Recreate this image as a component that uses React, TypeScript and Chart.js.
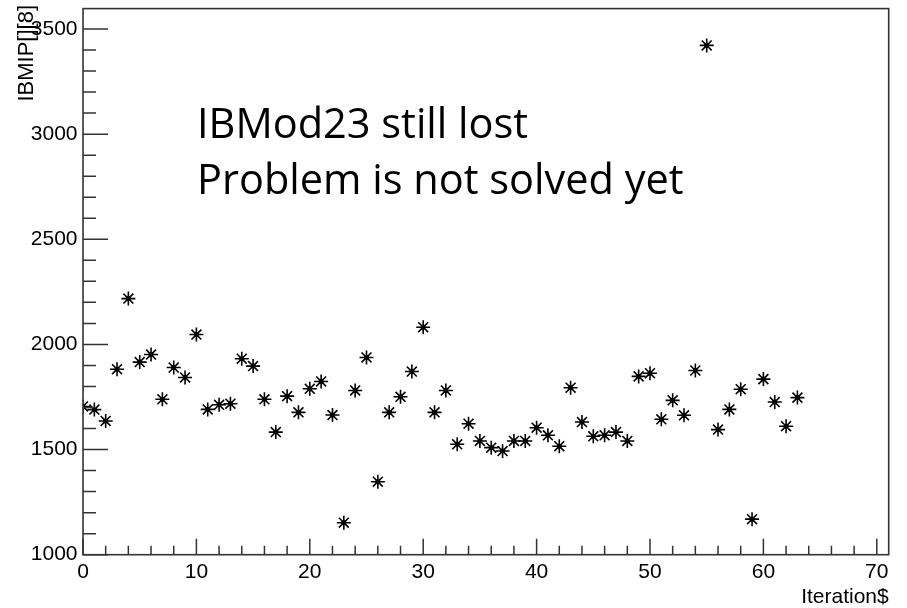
import React, { useEffect, useRef } from "react";
import { Chart, registerables } from "chart.js";

Chart.register(...registerables);

// ---- data ----
const iterations: number[] = [
  0, 1, 2, 3, 4, 5, 6, 7, 8, 9, 10, 11, 12, 13, 14, 15, 16, 17, 18, 19, 20, 21,
  22, 23, 24, 25, 26, 27, 28, 29, 30, 31, 32, 33, 34, 35, 36, 37, 38, 39, 40,
  41, 42, 43, 44, 45, 46, 47, 48, 49, 50, 51, 52, 53, 54, 55, 56, 57, 58, 59,
  60, 61, 62, 63,
];
const ibmipValues: number[] = [
  1705, 1690, 1636, 1882, 2218, 1916, 1952, 1739, 1890, 1843, 2047, 1691, 1713,
  1718, 1932, 1897, 1739, 1583, 1754, 1677, 1789, 1824, 1664, 1152, 1781, 1938,
  1347, 1677, 1751, 1871, 2082, 1677, 1781, 1525, 1623, 1541, 1509, 1493, 1541,
  1541, 1604, 1568, 1516, 1794, 1631, 1563, 1568, 1583, 1541, 1848, 1863, 1644,
  1734, 1663, 1876, 3422, 1595, 1691, 1787, 1169, 1835, 1726, 1611, 1747,
];
const xMajorTicks: number[] = [0, 10, 20, 30, 40, 50, 60, 70];
const xMinorTicks: number[] = [
  2, 4, 6, 8, 12, 14, 16, 18, 22, 24, 26, 28, 32, 34, 36, 38, 42, 44, 46, 48,
  52, 54, 56, 58, 62, 64, 66, 68,
];
const yMajorTicks: number[] = [1000, 1500, 2000, 2500, 3000, 3500];
const yMinorTicks: number[] = [
  1100, 1200, 1300, 1400, 1600, 1700, 1800, 1900, 2100, 2200, 2300, 2400, 2600,
  2700, 2800, 2900, 3100, 3200, 3300, 3400,
];
const xTitle = "Iteration$";
const yTitle = "IBMIP[][8]";
const noteLines: string[] = ["IBMod23 still lost", "Problem is not solved yet"];

const X_MIN = 0;
const X_MAX = 71.05;
const Y_MIN = 1000;
const Y_MAX = 3597;

const AXIS_COLOR = "#333333";
const LABEL_FONT = "'Liberation Sans', Arial, Helvetica, sans-serif";

const rootFramePlugin = {
  id: "rootFrame",
  afterDatasetsDraw(chart: any) {
    const ctx = chart.ctx as CanvasRenderingContext2D;
    const area = chart.chartArea;
    const xs = chart.scales.x;
    const ys = chart.scales.y;
    ctx.save();
    ctx.strokeStyle = AXIS_COLOR;
    ctx.lineWidth = 1.6;
    ctx.strokeRect(area.left, area.top, area.right - area.left, area.bottom - area.top);

    ctx.lineWidth = 1.5;
    ctx.beginPath();
    for (const v of yMajorTicks) {
      const y = ys.getPixelForValue(v);
      ctx.moveTo(area.left, y);
      ctx.lineTo(area.left + 25, y);
    }
    for (const v of yMinorTicks) {
      const y = ys.getPixelForValue(v);
      ctx.moveTo(area.left, y);
      ctx.lineTo(area.left + 13, y);
    }
    for (const v of xMajorTicks) {
      const x = xs.getPixelForValue(v);
      ctx.moveTo(x, area.bottom);
      ctx.lineTo(x, area.bottom - 16);
    }
    for (const v of xMinorTicks) {
      const x = xs.getPixelForValue(v);
      ctx.moveTo(x, area.bottom);
      ctx.lineTo(x, area.bottom - 9);
    }
    ctx.stroke();

    // axis titles
    ctx.fillStyle = "#000";
    ctx.font = `21px ${LABEL_FONT}`;
    ctx.textAlign = "right";
    ctx.textBaseline = "alphabetic";
    ctx.fillText(xTitle, area.right, 603);

    ctx.save();
    ctx.font = `22px ${LABEL_FONT}`;
    ctx.translate(33, 5);
    ctx.rotate(-Math.PI / 2);
    ctx.textAlign = "right";
    ctx.textBaseline = "alphabetic";
    ctx.fillText(yTitle, 0, 0);
    ctx.restore();

    // annotation
    ctx.font = `41.5px "Open Sans", Lato, sans-serif`;
    ctx.textAlign = "left";
    ctx.textBaseline = "alphabetic";
    ctx.fillText(noteLines[0], 197, 138);
    ctx.fillText(noteLines[1], 197, 194);
    ctx.restore();
  },
};

export default function App() {
  const canvasRef = useRef<HTMLCanvasElement | null>(null);

  useEffect(() => {
    document.body.style.margin = "0";
    const canvas = canvasRef.current;
    if (!canvas) return;
    const points = iterations.map((x, i) => ({ x, y: ibmipValues[i] }));
    const chart = new Chart(canvas, {
      type: "scatter",
      data: {
        datasets: [
          {
            data: points,
            pointStyle: "star",
            radius: 7,
            borderWidth: 1.6,
            borderColor: "#000",
            backgroundColor: "#000",
          },
          {
            data: points,
            pointStyle: "circle",
            radius: 2.5,
            borderWidth: 0,
            backgroundColor: "#000",
          },
        ],
      },
      options: {
        responsive: false,
        animation: false,
        events: [],
        layout: { padding: { left: 0, right: 18.3, top: 7.5, bottom: 0 } },
        plugins: {
          legend: { display: false },
          tooltip: { enabled: false },
        },
        scales: {
          x: {
            type: "linear",
            min: X_MIN,
            max: X_MAX,
            grid: { display: false, drawTicks: false },
            border: { display: false },
            afterBuildTicks: (scale: any) => {
              scale.ticks = xMajorTicks.map((v) => ({ value: v }));
            },
            afterFit: (scale: any) => {
              scale.height = 53.3;
              scale.paddingLeft = 0;
              scale.paddingRight = 0;
            },
            ticks: {
              color: "#000",
              padding: 5,
              maxRotation: 0,
              autoSkip: false,
              font: { family: LABEL_FONT, size: 21 },
              callback: (v: any) => String(v),
            },
          },
          y: {
            type: "linear",
            min: Y_MIN,
            max: Y_MAX,
            grid: { display: false, drawTicks: false },
            border: { display: false },
            afterBuildTicks: (scale: any) => {
              scale.ticks = yMajorTicks.map((v) => ({ value: v }));
            },
            afterFit: (scale: any) => {
              scale.width = 83;
              scale.paddingTop = 0;
              scale.paddingBottom = 0;
            },
            ticks: {
              color: "#000",
              padding: 5.5,
              autoSkip: false,
              font: { family: LABEL_FONT, size: 21 },
              callback: (v: any) => String(v),
            },
          },
        },
      },
      plugins: [rootFramePlugin],
    });
    return () => chart.destroy();
  }, []);

  return (
    <div style={{ position: "absolute", left: 0, top: 0, width: 907, height: 608, background: "#fff" }}>
      <canvas ref={canvasRef} width={907} height={608} />
    </div>
  );
}
